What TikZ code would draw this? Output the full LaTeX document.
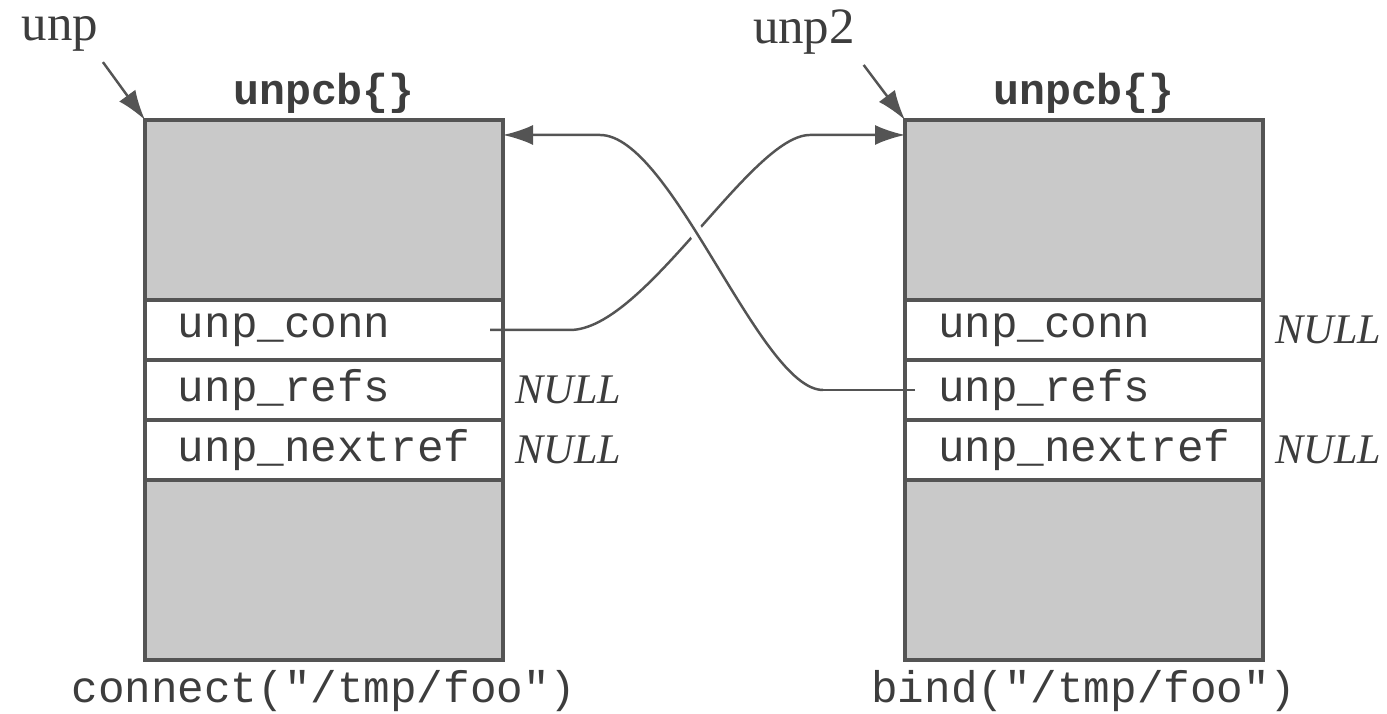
\documentclass[tikz,border=0pt]{standalone}
\usepackage{fontspec}
\setmainfont{Liberation Serif}
\setmonofont{Liberation Mono}
\usetikzlibrary{positioning,arrows.meta}
\definecolor{BoxGray}{rgb}{0.79,0.79,0.79}
\definecolor{EdgeGray}{rgb}{0.33,0.33,0.33}
\definecolor{InkGray}{rgb}{0.24,0.24,0.24}

\newcommand\fieldfont{\fontsize{12.6}{14}\selectfont\ttfamily}
\newcommand\titlefont{\fontsize{12.3}{14}\selectfont\ttfamily\bfseries}

\tikzset{
  shaded/.style={draw=EdgeGray, line width=0.9pt, fill=BoxGray,
    minimum width=3.58cm, minimum height=1.8cm, inner sep=0pt, outer sep=0pt},
  field/.style={draw=EdgeGray, line width=0.9pt, fill=white, text=InkGray,
    minimum height=0.6cm, text width=2.92cm, inner xsep=0.33cm, inner ysep=0pt,
    align=left, outer sep=0pt, font=\fieldfont},
  nullmark/.style={text=InkGray, inner sep=0pt, font=\fontsize{12}{14}\selectfont\itshape},
  boxtitle/.style={text=InkGray, inner sep=0pt, font=\titlefont},
  calllabel/.style={text=InkGray, inner sep=0pt, font=\fieldfont},
  ptrlabel/.style={text=InkGray, inner sep=0pt, font=\fontsize{14.5}{16}\selectfont},
  link/.style={draw=EdgeGray, line width=0.7pt},
  overpass/.style={preaction={draw=white, line width=4pt}},
  tip/.style={-{Latex[length=3mm, width=2mm]}},
}

\begin{document}
\begin{tikzpicture}

\useasboundingbox (0,0) rectangle (13.87,7.14);

% ============================================================
% LEFT unpcb: the connecting socket
% ============================================================

\node[shaded] (lhead) at (3.24,5.04) {};
\node[field, below=0pt of lhead] (lconn) {unp\_conn};
\node[field, below=0pt of lconn] (lrefs) {unp\_refs};
\node[field, below=0pt of lrefs] (lnext) {unp\_nextref};
\node[shaded, below=0pt of lnext] (ltail) {};

\node[boxtitle, above=0.06cm of lhead] (ltitle) {unpcb\{\}};
\node[calllabel, below=0.1cm of ltail] (lcall) {connect("/tmp/foo")};

\node[nullmark, right=0.12cm of lrefs] (lrefsnull) {NULL};
\node[nullmark, right=0.12cm of lnext] (lnextnull) {NULL};

% pointer
\node[ptrlabel] (unp) at (0.60,6.80) {unp};
\draw[link, tip] ([shift={(0.04,-0.1)}]unp.south east) -- (lhead.north west);

% ============================================================
% RIGHT unpcb: the bound socket
% ============================================================

\node[shaded] (rhead) at (10.84,5.04) {};
\node[field, below=0pt of rhead] (rconn) {unp\_conn};
\node[field, below=0pt of rconn] (rrefs) {unp\_refs};
\node[field, below=0pt of rrefs] (rnext) {unp\_nextref};
\node[shaded, below=0pt of rnext] (rtail) {};

\node[boxtitle, above=0.06cm of rhead] (rtitle) {unpcb\{\}};
\node[calllabel, below=0.1cm of rtail] (rcall) {bind("/tmp/foo")};

\node[nullmark, right=0.12cm of rconn] (rconnnull) {NULL};
\node[nullmark, right=0.12cm of rnext] (rnextnull) {NULL};

% pointer
\node[ptrlabel] (unp2) at (8.04,6.82) {unp2};
\draw[link, tip] ([shift={(0.08,-0.1)}]unp2.south east) -- (rhead.north west);

% ============================================================
% crossed links between the two
% ============================================================

% unp_conn -> right unpcb
\draw[link, tip] ([xshift=-0.13cm]lconn.east) -- ++(0.80,0)
  .. controls +(0.75,0) and +(-0.59,0) .. ++(2.40,1.95)
  -- ([yshift=-0.15cm]rhead.north west);

% unp_refs -> left unpcb, passes over the first link
\path ([xshift=0.10cm]rrefs.west) coordinate (refsout)
  ++(-0.92,0) coordinate (refsbend)
  ++(-2.23,2.55) coordinate (headbend);
\draw[link, overpass] (refsbend) .. controls +(-0.63,0) and +(0.72,0) .. (headbend);
\draw[link] (refsout) -- (refsbend);
\draw[link, tip] (headbend) -- ([yshift=-0.15cm]lhead.north east);

\end{tikzpicture}
\end{document}
